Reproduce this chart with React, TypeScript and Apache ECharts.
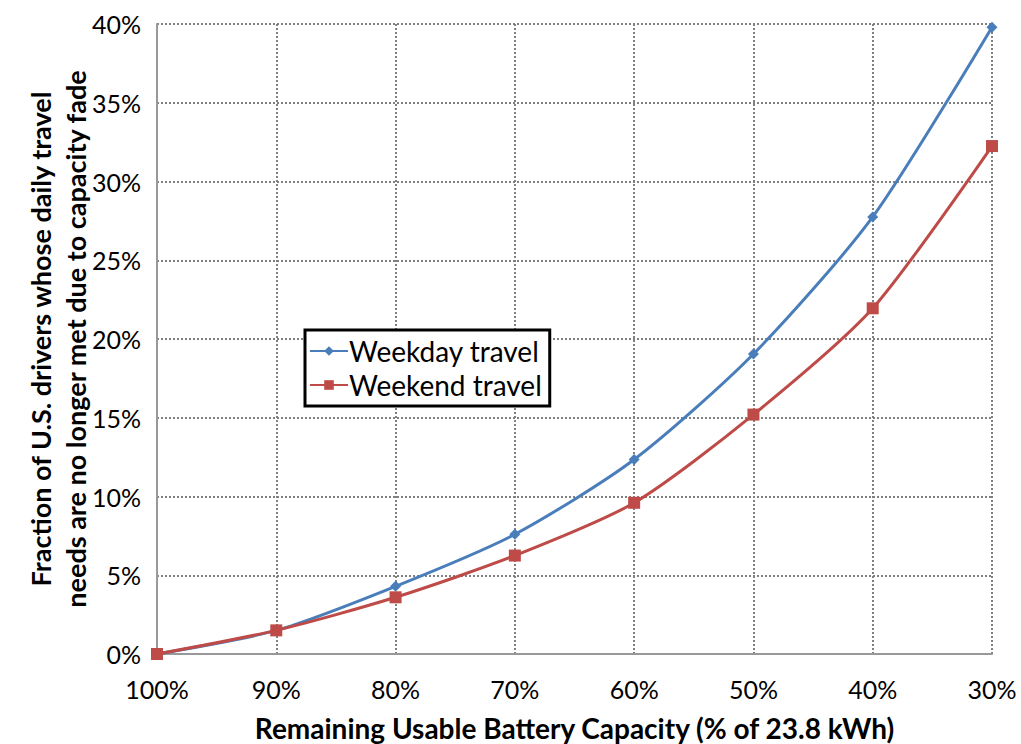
import React, { useEffect, useRef } from "react";
import * as echarts from "echarts";

const categories = ["100%", "90%", "80%", "70%", "60%", "50%", "40%", "30%"];
const weekday = [0, 1.5, 4.3, 7.6, 12.35, 19.05, 27.75, 39.8];
const weekend = [0, 1.5, 3.6, 6.25, 9.6, 15.2, 21.95, 32.25];
const yTicks = [0, 5, 10, 15, 20, 25, 30, 35, 40];

const FONT = "Lato, 'Open Sans', sans-serif";

export default function App() {
  const ref = useRef<HTMLDivElement>(null);
  useEffect(() => {
    const chart = echarts.init(ref.current!, undefined, { renderer: "svg" });
    const grid = { type: [2, 2], color: "#808080", width: 2 };
    chart.setOption({
      animation: false,
      backgroundColor: "#ffffff",
      textStyle: { fontFamily: FONT },
      grid: { left: 157, right: 29, top: 24, bottom: 90, containLabel: false, outerBoundsMode: "none" },
      legend: {
        left: 305,
        top: 330,
        orient: "vertical",
        backgroundColor: "#fff",
        borderColor: "#000",
        borderWidth: 3,
        borderRadius: 0,
        padding: [5, 8, 5, 4],
        itemGap: 2,
        itemWidth: 38,
        itemHeight: 12,
        textStyle: { fontSize: 28, color: "#000", fontFamily: FONT, padding: [0, 0, 0, -4], lineHeight: 32 },
        data: ["Weekday travel", "Weekend travel"],
      },
      xAxis: {
        type: "category",
        data: categories,
        boundaryGap: false,
        axisLine: { lineStyle: { color: "#999", width: 2 } },
        axisTick: { show: false },
        axisLabel: { fontSize: 25, color: "#000", margin: 22, fontFamily: FONT },
        splitLine: { show: true, lineStyle: grid },
        name: "Remaining Usable Battery Capacity (% of 23.8 kWh)",
        nameLocation: "middle",
        nameGap: 60,
        nameMoveOverlap: false,
        nameTextStyle: { fontSize: 28, fontWeight: "bold", color: "#000", fontFamily: FONT },
      },
      yAxis: {
        type: "value",
        min: yTicks[0],
        max: yTicks[yTicks.length - 1],
        interval: 5,
        axisLine: { show: true, lineStyle: { color: "#999", width: 2 } },
        axisTick: { show: false },
        axisLabel: { fontSize: 25, color: "#000", margin: 16, formatter: "{value}%", fontFamily: FONT },
        splitLine: { show: true, lineStyle: grid },
        name: "Fraction of U.S. drivers whose daily travel\nneeds are no longer met due to capacity fade",
        nameLocation: "middle",
        nameGap: 64,
        nameMoveOverlap: false,
        nameRotate: 90,
        nameTextStyle: { fontSize: 27, fontWeight: "bold", color: "#000", lineHeight: 35, fontFamily: FONT },
      },
      series: [
        {
          name: "Weekday travel",
          type: "line",
          data: weekday,
          smooth: 0.25,
          symbol: "diamond",
          symbolSize: 11,
          lineStyle: { color: "#4a7ebb", width: 3 },
          itemStyle: { color: "#4a7ebb" },
        },
        {
          name: "Weekend travel",
          type: "line",
          data: weekend,
          smooth: 0.25,
          symbol: "rect",
          symbolSize: 12,
          lineStyle: { color: "#be4b48", width: 3 },
          itemStyle: { color: "#be4b48" },
        },
      ],
    });
    return () => chart.dispose();
  }, []);
  return <div ref={ref} style={{ width: 1021, height: 744, position: "absolute", left: 0, top: 0 }} />;
}
